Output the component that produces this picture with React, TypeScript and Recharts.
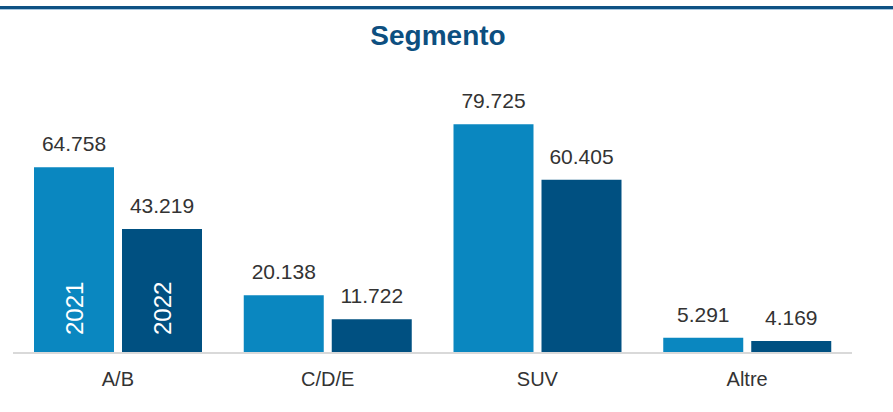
import React from "react";
import { BarChart, Bar, XAxis, YAxis, LabelList } from "recharts";

const categories = ["A/B", "C/D/E", "SUV", "Altre"];
const values2021 = [64758, 20138, 79725, 5291];
const values2022 = [43219, 11722, 60405, 4169];
const seriesNames = ["2021", "2022"];

const data = categories.map((c, i) => ({
  name: c,
  v2021: values2021[i],
  v2022: values2022[i],
}));

const fmt = (v: number) => {
  const s = String(Math.round(v));
  return s.replace(/\B(?=(\d{3})+(?!\d))/g, ".");
};

const FONT = "'Liberation Sans', Arial, sans-serif";

const makeYearLabel = (year: string) => (props: any) => {
  const { x, y, width, height, index } = props;
  if (index !== 0) return null;
  const cx = x + width / 2;
  const by = y + height - 18;
  return (
    <text
      x={cx}
      y={by}
      transform={`rotate(-90, ${cx}, ${by})`}
      textAnchor="start"
      dominantBaseline="central"
      fill="#ffffff"
      fontSize={24}
      fontFamily={FONT}
    >
      {year}
    </text>
  );
};

export default function App() {
  return (
    <div
      style={{
        position: "absolute",
        left: 0,
        top: 0,
        width: 893,
        height: 412,
        background: "#fff",
        fontFamily: FONT,
      }}
    >
      <div style={{ position: "absolute", left: 0, top: 6, width: 893, height: 3, background: "#0f5284" }} />
      <div style={{ position: "absolute", left: 0, top: 9, width: 893, height: 1, background: "#a9c7df" }} />
      <div
        style={{
          position: "absolute",
          left: 0,
          top: 20,
          width: 876,
          textAlign: "center",
          fontSize: 28,
          fontWeight: "bold",
          color: "#0d4f80",
          lineHeight: "32px",
        }}
      >
        Segmento
      </div>
      <BarChart
        width={893}
        height={412}
        data={data}
        margin={{ top: 66, right: 41, bottom: 0, left: 13 }}
        barCategoryGap={21}
        barGap={8}
      >
        <YAxis hide domain={[0, 100000]} />
        <XAxis
          dataKey="name"
          height={59}
          axisLine={{ stroke: "#d9d9d9", strokeWidth: 2 }}
          tickLine={false}
          tickSize={0}
          tickMargin={19}
          tick={{ fontSize: 20, fill: "#333333", fontFamily: FONT }}
        />
        <Bar dataKey="v2021" name={seriesNames[0]} fill="#0a87c0" isAnimationActive={false}>
          <LabelList dataKey="v2021" position="top" offset={16} formatter={fmt as any} fontSize={21} fill="#333333" fontFamily={FONT} />
          <LabelList dataKey="v2021" content={makeYearLabel(seriesNames[0])} />
        </Bar>
        <Bar dataKey="v2022" name={seriesNames[1]} fill="#005081" isAnimationActive={false}>
          <LabelList dataKey="v2022" position="top" offset={16} formatter={fmt as any} fontSize={21} fill="#333333" fontFamily={FONT} />
          <LabelList dataKey="v2022" content={makeYearLabel(seriesNames[1])} />
        </Bar>
      </BarChart>
    </div>
  );
}
